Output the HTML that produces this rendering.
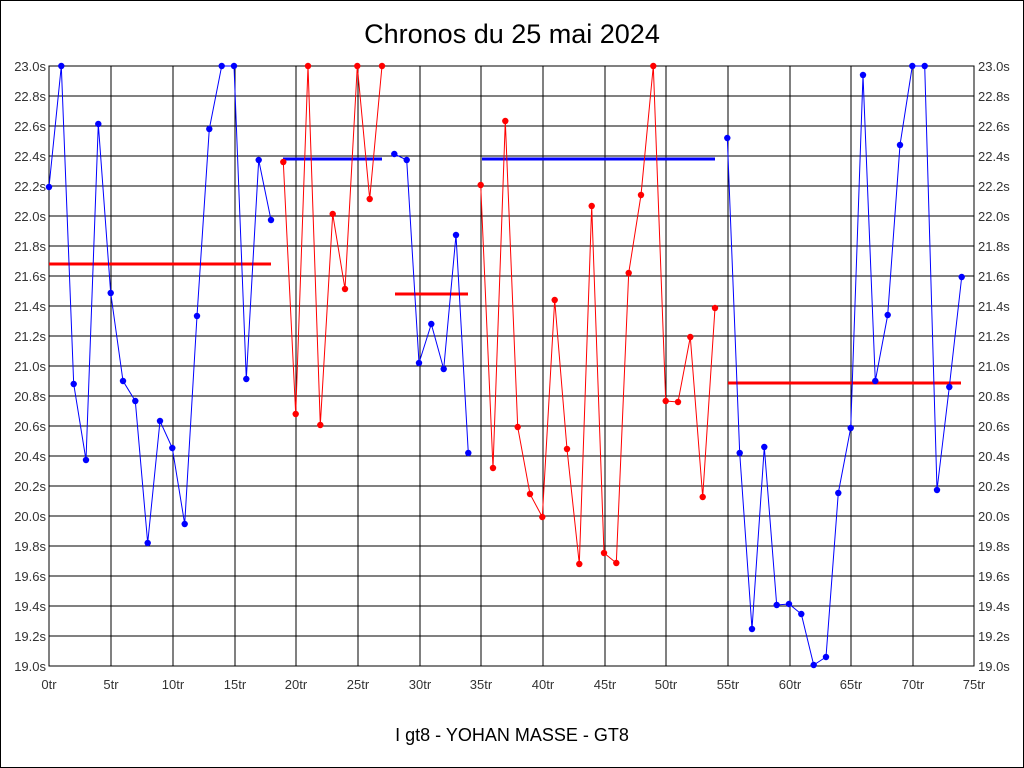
<!DOCTYPE html>
<html><head><meta charset="utf-8"><style>
html,body{margin:0;padding:0;background:#fff;}
svg{display:block;font-family:"Liberation Sans",sans-serif;}
</style></head><body>
<svg width="1024" height="768" viewBox="0 0 1024 768" xmlns="http://www.w3.org/2000/svg">
<defs>
<marker id="mb" markerWidth="8" markerHeight="8" refX="4" refY="4" markerUnits="userSpaceOnUse"><circle cx="4" cy="4" r="3.2" fill="#0000ff"/></marker>
<marker id="mr" markerWidth="8" markerHeight="8" refX="4" refY="4" markerUnits="userSpaceOnUse"><circle cx="4" cy="4" r="3.2" fill="#ff0000"/></marker>
</defs>
<rect x="0.5" y="0.5" width="1023" height="767" fill="#fff" stroke="#000"/>
<text x="512" y="43" font-size="27" text-anchor="middle" fill="#000">Chronos du 25 mai 2024</text>
<g stroke="#000" stroke-width="1" shape-rendering="crispEdges">
<rect x="49" y="66" width="925" height="600" fill="none"/>
<path d="M49 96H974M49 126H974M49 156H974M49 186H974M49 216H974M49 246H974M49 276H974M49 306H974M49 336H974M49 366H974M49 396H974M49 426H974M49 456H974M49 486H974M49 516H974M49 546H974M49 576H974M49 606H974M49 636H974"/>
<path d="M111 66V666M173 66V666M235 66V666M296 66V666M358 66V666M420 66V666M481 66V666M543 66V666M605 66V666M666 66V666M728 66V666M790 66V666M851 66V666M913 66V666"/>
</g>
<g font-size="13" fill="#333" text-anchor="end">
<text x="46" y="71">23.0s</text><text x="46" y="101">22.8s</text><text x="46" y="131">22.6s</text><text x="46" y="161">22.4s</text><text x="46" y="191">22.2s</text><text x="46" y="221">22.0s</text><text x="46" y="251">21.8s</text><text x="46" y="281">21.6s</text><text x="46" y="311">21.4s</text><text x="46" y="341">21.2s</text><text x="46" y="371">21.0s</text><text x="46" y="401">20.8s</text><text x="46" y="431">20.6s</text><text x="46" y="461">20.4s</text><text x="46" y="491">20.2s</text><text x="46" y="521">20.0s</text><text x="46" y="551">19.8s</text><text x="46" y="581">19.6s</text><text x="46" y="611">19.4s</text><text x="46" y="641">19.2s</text><text x="46" y="671">19.0s</text>
</g>
<g font-size="13" fill="#333" text-anchor="start">
<text x="978" y="71">23.0s</text><text x="978" y="101">22.8s</text><text x="978" y="131">22.6s</text><text x="978" y="161">22.4s</text><text x="978" y="191">22.2s</text><text x="978" y="221">22.0s</text><text x="978" y="251">21.8s</text><text x="978" y="281">21.6s</text><text x="978" y="311">21.4s</text><text x="978" y="341">21.2s</text><text x="978" y="371">21.0s</text><text x="978" y="401">20.8s</text><text x="978" y="431">20.6s</text><text x="978" y="461">20.4s</text><text x="978" y="491">20.2s</text><text x="978" y="521">20.0s</text><text x="978" y="551">19.8s</text><text x="978" y="581">19.6s</text><text x="978" y="611">19.4s</text><text x="978" y="641">19.2s</text><text x="978" y="671">19.0s</text>
</g>
<g font-size="13" fill="#333" text-anchor="middle">
<text x="49" y="689">0tr</text><text x="111" y="689">5tr</text><text x="173" y="689">10tr</text><text x="235" y="689">15tr</text><text x="296" y="689">20tr</text><text x="358" y="689">25tr</text><text x="420" y="689">30tr</text><text x="481" y="689">35tr</text><text x="543" y="689">40tr</text><text x="605" y="689">45tr</text><text x="666" y="689">50tr</text><text x="728" y="689">55tr</text><text x="790" y="689">60tr</text><text x="851" y="689">65tr</text><text x="913" y="689">70tr</text><text x="974" y="689">75tr</text>
</g>
<text x="512" y="741" font-size="18" text-anchor="middle" fill="#000">I gt8 - YOHAN MASSE - GT8</text>
<g stroke-width="3">
<line x1="49" y1="264" x2="271" y2="264" stroke="#ff0000"/>
<line x1="283" y1="159" x2="382" y2="159" stroke="#0000ff"/>
<line x1="395" y1="294" x2="468" y2="294" stroke="#ff0000"/>
<line x1="482" y1="159" x2="715" y2="159" stroke="#0000ff"/>
<line x1="728" y1="383" x2="961" y2="383" stroke="#ff0000"/>
</g>
<g fill="none" stroke-width="1">
<polyline stroke="#0000ff" marker-start="url(#mb)" marker-mid="url(#mb)" marker-end="url(#mb)" points="49,187 61.3,66 73.7,384 86,460 98.3,124 110.7,293 123,381 135.3,401 147.7,543 160,421 172.3,448 184.7,524 197,316 209.3,129 221.7,66 234,66 246.3,379 258.7,160 271,220"/>
<polyline stroke="#ff0000" marker-start="url(#mr)" marker-mid="url(#mr)" marker-end="url(#mr)" points="283.3,162 295.7,414 308,66 320.3,425 332.7,214 345,289 357.3,66 369.7,199 382,66"/>
<polyline stroke="#0000ff" marker-start="url(#mb)" marker-mid="url(#mb)" marker-end="url(#mb)" points="394.3,154 406.7,160 419,363 431.3,324 443.7,369 456,235 468.3,453"/>
<polyline stroke="#ff0000" marker-start="url(#mr)" marker-mid="url(#mr)" marker-end="url(#mr)" points="480.7,185 493,468 505.3,121 517.7,427 530,494 542.3,517 554.7,300 567,449 579.3,564 591.7,206 604,553 616.3,563 628.7,273 641,195 653.3,66 665.7,401 678,402 690.3,337 702.7,497 715,308"/>
<polyline stroke="#0000ff" marker-start="url(#mb)" marker-mid="url(#mb)" marker-end="url(#mb)" points="727.3,138 739.7,453 752,629 764.3,447 776.7,605 789,604 801.3,614 813.7,665 826,657 838.3,493 850.7,428 863,75 875.3,381 887.7,315 900,145 912.3,66 924.7,66 937,490 949.3,387 961.7,277"/>
</g>
</svg>
</body></html>
